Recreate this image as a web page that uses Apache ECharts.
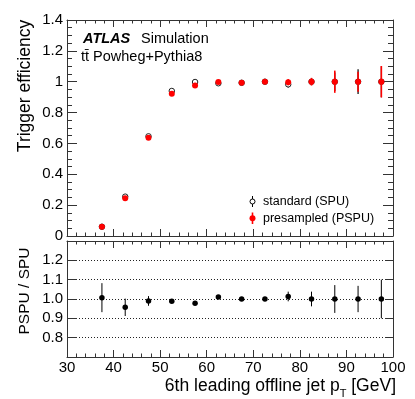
<!DOCTYPE html>
<html style="height:100%">
<head>
<meta charset="utf-8">
<script src="https://cdn.jsdelivr.net/npm/echarts@6/dist/echarts.min.js"></script>
</head>
<body style="height:100%; margin:0; background:#fff">
<div id="container" style="width:415px; height:399px"></div>
<script type="text/javascript">
// bin centres of the 6th leading jet pT (GeV)
var binCenters = [37.5, 42.5, 47.5, 52.5, 57.5, 62.5, 67.5, 72.5, 77.5, 82.5, 87.5, 92.5, 97.5];

// standard pile-up (SPU)
var spuEff = [0.060, 0.255, 0.646, 0.940, 0.998, 0.990, 0.993, 1.000, 0.983, 1.000, 1.000, 1.000, 1.000];
var spuErr = [0.005, 0.010, 0.010, 0.008, 0.004, 0.004, 0.004, 0.003, 0.020, 0.020, 0.060, 0.080, 0.100];

// presampled pile-up (PSPU)
var pspuEff = [0.060, 0.244, 0.637, 0.922, 0.976, 0.998, 0.993, 1.000, 0.997, 1.000, 1.000, 1.000, 1.000];
var pspuErr = [0.005, 0.010, 0.010, 0.008, 0.004, 0.004, 0.004, 0.003, 0.020, 0.025, 0.072, 0.065, 0.102];

// ratio PSPU / SPU
var ratioVal = [1.007, 0.957, 0.990, 0.988, 0.978, 1.010, 1.000, 1.000, 1.013, 1.000, 1.000, 1.000, 1.000];
var ratioErr = [0.075, 0.045, 0.025, 0.008, 0.005, 0.005, 0.004, 0.004, 0.025, 0.038, 0.072, 0.068, 0.100];

var xTicks = [30, 40, 50, 60, 70, 80, 90, 100];

var FONT = 'Liberation Sans';
var FRAME = '#333';

function pts(vals, errs) {
    return binCenters.map(function (x, i) { return [x, vals[i], errs[i]]; });
}

function errBar(color, width) {
    return function (params, api) {
        var x = api.value(0), y = api.value(1), e = api.value(2);
        var p1 = api.coord([x, y + e]);
        var p2 = api.coord([x, y - e]);
        return {
            type: 'line',
            shape: { x1: p1[0], y1: p1[1], x2: p2[0], y2: p2[1] },
            style: { stroke: color, lineWidth: width }
        };
    };
}

function xAx(grid, pos, labels) {
    return {
        type: 'value', gridIndex: grid, position: pos,
        min: 30, max: 100, interval: 10,
        axisLine: { show: true, onZero: false, lineStyle: { color: FRAME, width: 1 } },
        axisTick: { show: true, inside: true, length: 7, lineStyle: { color: FRAME } },
        minorTick: { show: true, splitNumber: 5, length: 3.5, lineStyle: { color: FRAME } },
        axisLabel: {
            show: labels, margin: 3, color: '#000', fontFamily: FONT, fontSize: 15,
            customValues: xTicks
        },
        splitLine: { show: false }
    };
}

var dom = document.getElementById('container');
var myChart = echarts.init(dom, null, { renderer: 'canvas' });

var option = {
    animation: false,
    backgroundColor: '#fff',
    grid: [
        { left: 67, right: 22, top: 20, height: 216 },
        { left: 67, right: 22, top: 241, height: 116 }
    ],
    xAxis: [
        xAx(0, 'bottom', false),
        xAx(0, 'top', false),
        xAx(1, 'bottom', true),
        xAx(1, 'top', false)
    ],
    yAxis: [
        {
            type: 'value', gridIndex: 0, position: 'left',
            min: 0, max: 1.4, interval: 0.2,
            axisLine: { show: true, onZero: false, lineStyle: { color: FRAME } },
            axisTick: { show: true, inside: true, length: 10, lineStyle: { color: FRAME } },
            minorTick: { show: true, splitNumber: 4, length: 5, lineStyle: { color: FRAME } },
            axisLabel: {
                margin: 4, color: '#000', fontFamily: FONT, fontSize: 15,
                formatter: function (v) { return String(Math.round(v * 10) / 10); }
            },
            splitLine: { show: false }
        },
        {
            type: 'value', gridIndex: 0, position: 'right',
            min: 0, max: 1.4, interval: 0.2,
            axisLine: { show: true, onZero: false, lineStyle: { color: FRAME } },
            axisTick: { show: true, inside: true, length: 10, lineStyle: { color: FRAME } },
            minorTick: { show: true, splitNumber: 4, length: 5, lineStyle: { color: FRAME } },
            axisLabel: { show: false },
            splitLine: { show: false }
        },
        {
            type: 'value', gridIndex: 1, position: 'left',
            min: 0.7, max: 1.3, interval: 0.1,
            axisLine: { show: true, onZero: false, lineStyle: { color: FRAME } },
            axisTick: { show: true, inside: true, length: 10, lineStyle: { color: FRAME } },
            axisLabel: {
                margin: 4, color: '#000', fontFamily: FONT, fontSize: 15,
                formatter: function (v) {
                    var r = Math.round(v * 10);
                    return (r >= 8 && r <= 12) ? (r / 10).toFixed(1) : '';
                }
            },
            splitLine: { show: true, lineStyle: { color: '#222', type: [1, 2], width: 1 } }
        },
        {
            type: 'value', gridIndex: 1, position: 'right',
            min: 0.7, max: 1.3, interval: 0.1,
            axisLine: { show: true, onZero: false, lineStyle: { color: FRAME } },
            axisTick: { show: true, inside: true, length: 8, lineStyle: { color: FRAME } },
            axisLabel: { show: false },
            splitLine: { show: false }
        }
    ],
    series: [
        {
            type: 'custom', name: 'spuErr', xAxisIndex: 0, yAxisIndex: 0,
            renderItem: errBar('#000', 1.2), data: pts(spuEff, spuErr), z: 2
        },
        {
            type: 'scatter', name: 'standard (SPU)', xAxisIndex: 0, yAxisIndex: 0,
            symbol: 'circle', symbolSize: 5.5,
            itemStyle: { color: '#fff', borderColor: '#222', borderWidth: 1, opacity: 1 },
            data: pts(spuEff, spuErr), z: 3
        },
        {
            type: 'custom', name: 'pspuErr', xAxisIndex: 0, yAxisIndex: 0,
            renderItem: errBar('#ff0000', 1.6), data: pts(pspuEff, pspuErr), z: 4
        },
        {
            type: 'scatter', name: 'presampled (PSPU)', xAxisIndex: 0, yAxisIndex: 0,
            symbol: 'circle', symbolSize: 6,
            itemStyle: { color: '#ff0000', opacity: 1 },
            data: pts(pspuEff, pspuErr), z: 5
        },
        {
            type: 'custom', name: 'ratioErr', xAxisIndex: 2, yAxisIndex: 2,
            renderItem: errBar('#000', 1), data: pts(ratioVal, ratioErr), z: 4
        },
        {
            type: 'scatter', name: 'ratio', xAxisIndex: 2, yAxisIndex: 2,
            symbol: 'circle', symbolSize: 5.5,
            itemStyle: { color: '#000', opacity: 1 },
            data: pts(ratioVal, ratioErr), z: 5
        }
    ],
    graphic: [
        // labels
        { type: 'text', left: 83, top: 31, style: { text: 'ATLAS', font: 'italic bold 14.5px "Liberation Sans"', fill: '#000' } },
        { type: 'text', left: 141, top: 31, style: { text: 'Simulation', font: '14.5px "Liberation Sans"', fill: '#000' } },
        { type: 'text', left: 81, top: 49, style: { text: 't\u0074\u0304 Powheg+Pythia8', font: '14.5px "Liberation Sans"', fill: '#000' } },
        // legend
        { type: 'line', shape: { x1: 252.5, y1: 196, x2: 252.5, y2: 207 }, style: { stroke: '#000', lineWidth: 1 } },
        { type: 'circle', shape: { cx: 252.5, cy: 201.5, r: 2.5 }, style: { fill: '#fff', stroke: '#000', lineWidth: 1 } },
        { type: 'text', x: 263, y: 201.5, style: { text: 'standard (SPU)', font: '12.5px "Liberation Sans"', fill: '#000', verticalAlign: 'middle' } },
        { type: 'line', shape: { x1: 252.5, y1: 212.5, x2: 252.5, y2: 224 }, style: { stroke: '#ff0000', lineWidth: 1.6 } },
        { type: 'circle', shape: { cx: 252.5, cy: 218.3, r: 3 }, style: { fill: '#ff0000' } },
        { type: 'text', x: 263, y: 218.3, style: { text: 'presampled (PSPU)', font: '12.5px "Liberation Sans"', fill: '#000', verticalAlign: 'middle' } },
        // axis titles
        { type: 'text', x: 25, y: 86, rotation: Math.PI / 2,
          style: { text: 'Trigger efficiency', font: '17.5px "Liberation Sans"', fill: '#000', align: 'center', verticalAlign: 'middle' } },
        { type: 'text', x: 25, y: 291, rotation: Math.PI / 2,
          style: { text: 'PSPU / SPU', font: '15.5px "Liberation Sans"', fill: '#000', align: 'center', verticalAlign: 'middle' } },
        { type: 'text', x: 396, y: 374,
          style: {
              text: '6th leading offline jet p{sub|T} [GeV]',
              font: '17.5px "Liberation Sans"', fill: '#000', align: 'right', verticalAlign: 'top',
              rich: { sub: { fontFamily: FONT, fontSize: 11, padding: [14, 0, 0, 0] } }
          } }
    ]
};

myChart.setOption(option);
</script>
</body>
</html>
